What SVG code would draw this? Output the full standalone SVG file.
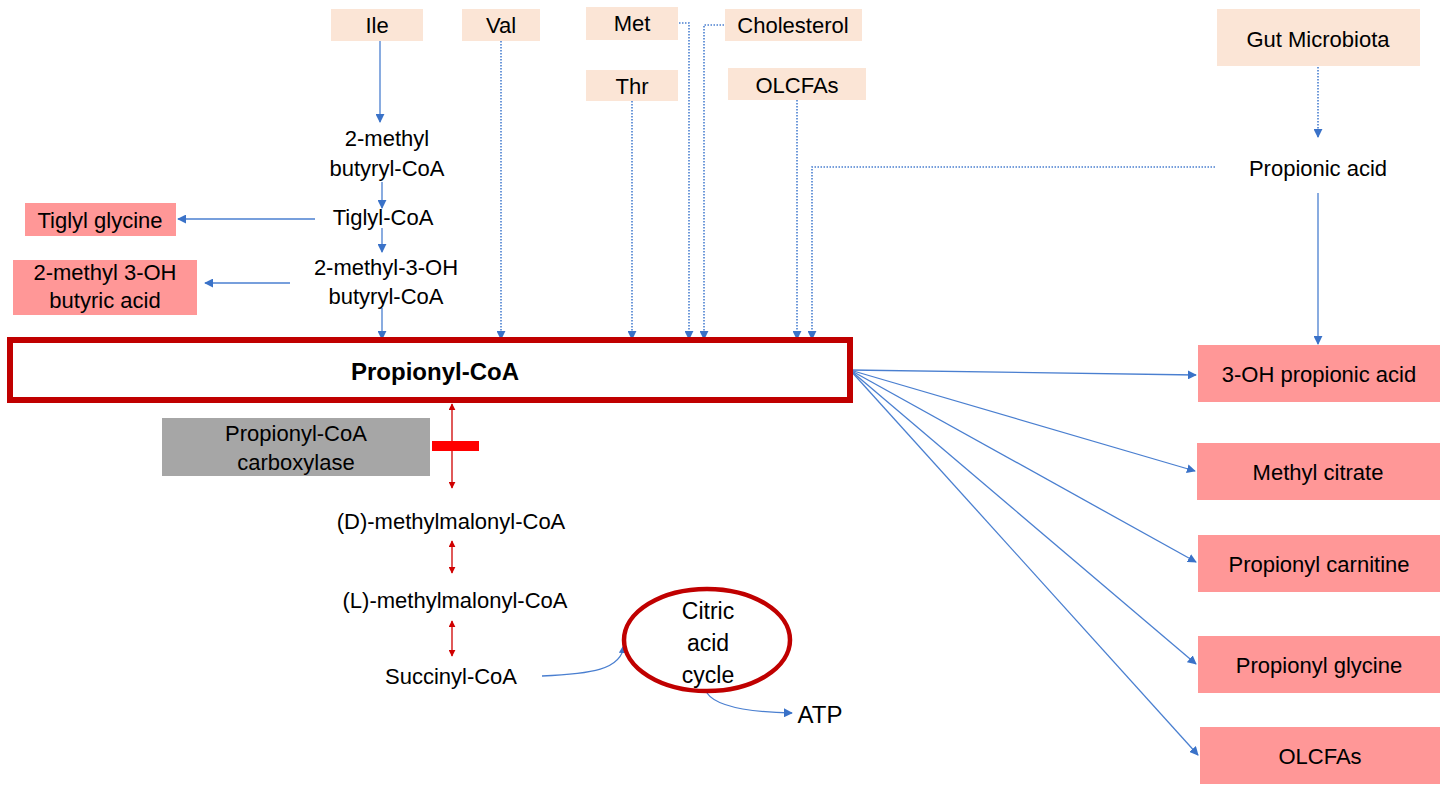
<svg xmlns="http://www.w3.org/2000/svg" width="1444" height="787" viewBox="0 0 1444 787">
<style>
text{font-family:"Liberation Sans",Arial,sans-serif;font-size:22px;fill:#000;text-anchor:middle}
.src{fill:#fbe5d6}
.out{fill:#ff9797}
.c{fill:none;stroke:#4a7fd0;stroke-width:1.3}
.d{fill:none;stroke:#4a7fd0;stroke-width:1.6;stroke-dasharray:1.5 1.5}
.r{fill:none;stroke:#d00000;stroke-width:1.3}
</style>
<defs>
<marker id="ab" viewBox="0 0 10 10" refX="9" refY="5" markerWidth="9" markerHeight="9" markerUnits="userSpaceOnUse" orient="auto"><path d="M0,0L10,5L0,10z" fill="#3a72c8"/></marker>
<marker id="ar" viewBox="0 0 10 10" refX="9" refY="5" markerWidth="7" markerHeight="7" markerUnits="userSpaceOnUse" orient="auto-start-reverse"><path d="M0,0L10,5L0,10z" fill="#d00000"/></marker>
</defs>
<rect width="1444" height="787" fill="#fff"/>

<g id="connectors">
<path class="c" d="M380,41V122" marker-end="url(#ab)"/>
<path class="c" d="M382,182V208" marker-end="url(#ab)"/>
<path class="c" d="M382,228V252" marker-end="url(#ab)"/>
<path class="c" d="M382,308V339" marker-end="url(#ab)"/>
<path class="c" d="M315,219H178" marker-end="url(#ab)"/>
<path class="c" d="M290,283H205" marker-end="url(#ab)"/>
<path class="d" d="M501,41V339" marker-end="url(#ab)"/>
<path class="d" d="M632,101V339" marker-end="url(#ab)"/>
<path class="d" d="M679,23H689V339" marker-end="url(#ab)"/>
<path class="d" d="M724,25H704V339" marker-end="url(#ab)"/>
<path class="d" d="M797,100V339" marker-end="url(#ab)"/>
<path class="d" d="M1215,167H812V339" marker-end="url(#ab)"/>
<path class="d" d="M1318,67V137" marker-end="url(#ab)"/>
<path class="c" d="M1318,193V344" marker-end="url(#ab)"/>
<path class="c" d="M850,370L1196,375" marker-end="url(#ab)"/>
<path class="c" d="M850,370L1195,471" marker-end="url(#ab)"/>
<path class="c" d="M850,370L1196,562" marker-end="url(#ab)"/>
<path class="c" d="M850,370L1196,664" marker-end="url(#ab)"/>
<path class="c" d="M850,370L1198,755" marker-end="url(#ab)"/>
<path class="r" d="M452,404V488" marker-start="url(#ar)" marker-end="url(#ar)"/>
<path class="r" d="M452,541V573" marker-start="url(#ar)" marker-end="url(#ar)"/>
<path class="r" d="M452,621V656" marker-start="url(#ar)" marker-end="url(#ar)"/>
<rect x="432" y="441" width="47" height="10" fill="#ff0000"/>
<path class="c" d="M542,676C590,674 622,670 624,645" marker-end="url(#ab)"/>
<path class="c" d="M707,693C715,705 745,712 792,713" marker-end="url(#ab)"/>
</g>

<g id="ile"><rect class="src" x="331" y="9" width="92" height="32"/><text x="377" y="33">Ile</text></g>
<g id="val"><rect class="src" x="462" y="9" width="78" height="32"/><text x="501" y="33">Val</text></g>
<g id="met"><rect class="src" x="586" y="7" width="92" height="33"/><text x="632" y="31">Met</text></g>
<g id="cholesterol"><rect class="src" x="725" y="9" width="137" height="32"/><text x="793" y="33">Cholesterol</text></g>
<g id="thr"><rect class="src" x="586" y="70" width="92" height="31"/><text x="632" y="94">Thr</text></g>
<g id="olcfas-src"><rect class="src" x="728" y="68" width="138" height="32"/><text x="797" y="93">OLCFAs</text></g>
<g id="gut"><rect class="src" x="1217" y="9" width="203" height="57"/><text x="1318" y="47">Gut Microbiota</text></g>
<g id="propionic-acid"><text x="1318" y="176">Propionic acid</text></g>

<g id="methylbutyryl"><text x="387" y="146">2-methyl</text><text x="387" y="176">butyryl-CoA</text></g>
<g id="tiglyl-coa"><text x="383" y="225">Tiglyl-CoA</text></g>
<g id="hydroxy-butyryl"><text x="386" y="275">2-methyl-3-OH</text><text x="386" y="304">butyryl-CoA</text></g>
<g id="tiglyl-glycine"><rect class="out" x="25" y="203" width="151" height="33"/><text x="100" y="228">Tiglyl glycine</text></g>
<g id="butyric-acid"><rect class="out" x="13" y="260" width="184" height="55"/><text x="105" y="280">2-methyl 3-OH</text><text x="105" y="308">butyric acid</text></g>

<g id="propionyl-coa"><rect x="10" y="340" width="840" height="60" fill="#fff" stroke="#c00000" stroke-width="6"/><text x="435" y="380" style="font-weight:bold;font-size:24px">Propionyl-CoA</text></g>
<g id="pcc"><rect x="162" y="418" width="268" height="58" fill="#a6a6a6"/><text x="296" y="441">Propionyl-CoA</text><text x="296" y="470">carboxylase</text></g>
<g id="d-mm"><text x="451" y="529">(D)-methylmalonyl-CoA</text></g>
<g id="l-mm"><text x="455" y="608">(L)-methylmalonyl-CoA</text></g>
<g id="succinyl"><text x="451" y="684">Succinyl-CoA</text></g>
<g id="tca"><ellipse cx="707" cy="640" rx="83" ry="51" fill="none" stroke="#c00000" stroke-width="4.5"/><text x="708" y="619" style="font-size:23px">Citric</text><text x="708" y="651" style="font-size:23px">acid</text><text x="708" y="683" style="font-size:23px">cycle</text></g>
<g id="atp"><text x="820" y="723" style="font-size:24px">ATP</text></g>

<g id="oh-propionic"><rect class="out" x="1198" y="345" width="242" height="57"/><text x="1319" y="382">3-OH propionic acid</text></g>
<g id="methyl-citrate"><rect class="out" x="1197" y="443" width="243" height="57"/><text x="1318" y="480">Methyl citrate</text></g>
<g id="propionyl-carnitine"><rect class="out" x="1198" y="535" width="242" height="57"/><text x="1319" y="572">Propionyl carnitine</text></g>
<g id="propionyl-glycine"><rect class="out" x="1198" y="636" width="242" height="57"/><text x="1319" y="673">Propionyl glycine</text></g>
<g id="olcfas-out"><rect class="out" x="1200" y="727" width="240" height="57"/><text x="1320" y="764">OLCFAs</text></g>
</svg>
